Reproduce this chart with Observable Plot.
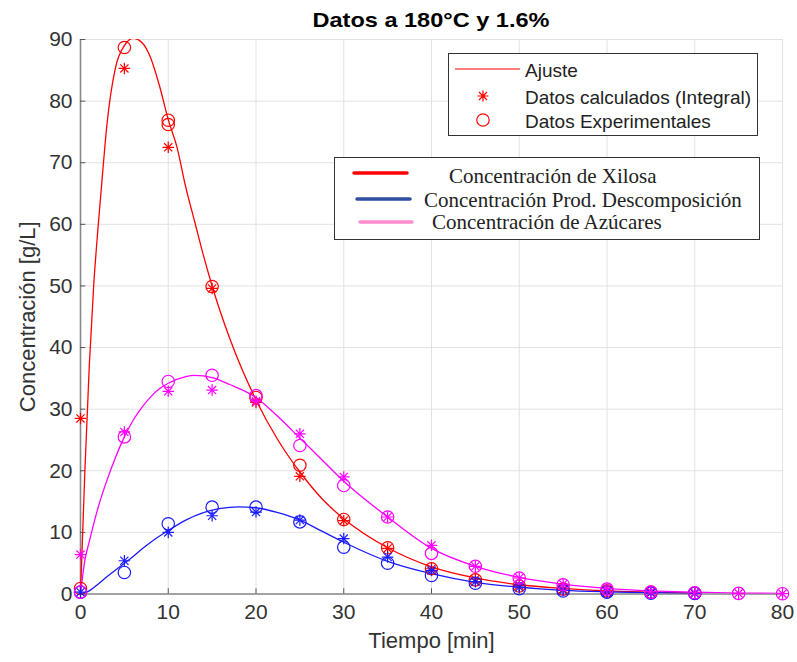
<!DOCTYPE html>
<html>
<head>
<meta charset="utf-8">
<script src="https://cdn.jsdelivr.net/npm/d3@7"></script>
<script src="https://cdn.jsdelivr.net/npm/@observablehq/plot@0.6"></script>
<style>
  body { margin: 0; background: #fff; }
  #wrap { position: relative; width: 797px; height: 662px; font-family: "Liberation Sans", Arial, sans-serif; }
  #title { position: absolute; left: 0; top: 9px; width: 862px; text-align: center; font-weight: bold; font-size: 21px; line-height: 1; color: #000; transform: scaleX(1.12); transform-origin: 431px 50%; }
  .legend { position: absolute; background: #fff; border: 1px solid #333; box-sizing: border-box; }
</style>
</head>
<body>
<div id="wrap">
  <div id="chart"></div>
  <div id="title">Datos a 180°C y 1.6%</div>
  <div class="legend" id="leg1" style="left:448px; top:53px; width:310px; height:83px;"></div>
  <div class="legend" id="leg2" style="left:334px; top:157px; width:426px; height:83px;"></div>
</div>
<script>
// ---- data ----
const xTicks = [0, 10, 20, 30, 40, 50, 60, 70, 80];
const yTicks = [0, 10, 20, 30, 40, 50, 60, 70, 80, 90];

// Xilosa (red)
const xilExpT = [0, 5, 10, 10, 15, 20, 25, 30, 35, 40, 45, 50, 55, 60, 65, 70];
const xilExp  = [0.9, 88.7, 76.9, 76.2, 49.9, 31.9, 20.9, 12.1, 7.5, 4.1, 2.3, 1.3, 0.8, 0.5, 0.3, 0.15];
const xilCalT = [0, 5, 10, 15, 20, 25, 30, 35, 40, 45, 50, 55, 60, 65, 70];
const xilCal  = [28.5, 85.3, 72.5, 49.6, 31.1, 19.1, 11.9, 7.4, 4.1, 2.4, 1.4, 0.8, 0.5, 0.3, 0.15];
const xilFitT = [0, 0.5, 1, 1.5, 2, 2.5, 3, 4, 5, 6, 7, 8, 9, 10, 11, 12, 13, 14, 15, 17, 20, 22.5, 25, 27.5, 30, 35, 40, 45, 50, 55, 60, 65, 70];
const xilFit  = [0, 20, 37, 50, 59.5, 68, 76, 85.5, 89, 90.2, 89.5, 87, 82.5, 77, 72.5, 66, 60.5, 55, 50, 41.5, 31.5, 25, 19.8, 15.5, 12.2, 7.5, 4.4, 2.6, 1.5, 0.9, 0.5, 0.3, 0.15];

// Azúcares (magenta)
const azuExpT = [0, 5, 10, 15, 20, 25, 30, 35, 40, 45, 50, 55, 60, 65, 70, 75, 80];
const azuExp  = [0.3, 25.5, 34.5, 35.5, 32.2, 24.1, 17.6, 12.5, 6.6, 4.5, 2.6, 1.5, 0.8, 0.3, 0.2, 0.1, 0.05];
const azuCalT = [0, 5, 10, 15, 20, 25, 30, 35, 40, 45, 50, 55, 60, 65, 70, 75, 80];
const azuCal  = [6.4, 26.3, 32.9, 33.1, 31.3, 26.0, 19.0, 12.5, 7.9, 4.5, 2.6, 1.6, 0.9, 0.4, 0.2, 0.1, 0.05];
const azuFitT = [0, 0.5, 1, 2, 3, 4, 5, 6, 7, 8, 9, 10, 12, 13, 14, 15, 17, 20, 22.5, 25, 27.5, 30, 35, 40, 45, 50, 55, 60, 65, 70, 75, 80];
const azuFit  = [0, 5.5, 8.5, 14, 18.4, 22.2, 25.5, 28.2, 30.3, 32, 33.3, 34.2, 35.3, 35.5, 35.4, 35.1, 34, 31.9, 28.8, 25.3, 21.8, 18.3, 12.5, 7.4, 4.5, 2.7, 1.6, 0.9, 0.5, 0.3, 0.15, 0.1];

// Prod. Descomposición (blue)
const desExpT = [0, 5, 10, 15, 20, 25, 30, 35, 40, 45, 50, 55, 60, 65, 70];
const desExp  = [0.3, 3.5, 11.4, 14.1, 14.1, 11.7, 7.6, 5.0, 3.0, 1.75, 0.85, 0.5, 0.3, 0.15, 0.1];
const desCalT = [0, 5, 10, 15, 20, 25, 30, 35, 40, 45, 50, 55, 60, 65, 70];
const desCal  = [0.3, 5.4, 10.0, 12.7, 13.3, 12.0, 9.0, 6.0, 3.8, 2.0, 1.1, 0.6, 0.3, 0.15, 0.1];
const desFitT = [0, 1, 2, 3, 4, 5, 6, 7, 8, 10, 12, 14, 16, 18, 20, 22.5, 25, 27.5, 30, 35, 40, 45, 50, 55, 60, 65, 70];
const desFit  = [0, 0.5, 1.6, 2.8, 3.9, 5.0, 6.1, 7.3, 8.4, 10.3, 12.0, 13.2, 13.9, 14.15, 14.0, 13.2, 12.0, 10.2, 8.4, 5.3, 3.3, 1.9, 1.1, 0.6, 0.35, 0.2, 0.1];

const xLabel = "Tiempo [min]";
const yLabel = "Concentración [g/L]";
const legend1Labels = ["Ajuste", "Datos calculados (Integral)", "Datos Experimentales"];
const legend2Labels = ["Concentración de Xilosa", "Concentración Prod. Descomposición", "Concentración de Azúcares"];

// ---- build ----
const zip = (t, v) => t.map((x, i) => ({t: x, v: v[i]}));
const series = [
  {fit: zip(xilFitT, xilFit), exp: zip(xilExpT, xilExp), cal: zip(xilCalT, xilCal), color: "#ff0000"},
  {fit: zip(desFitT, desFit), exp: zip(desExpT, desExp), cal: zip(desCalT, desCal), color: "#1a1aff"},
  {fit: zip(azuFitT, azuFit), exp: zip(azuExpT, azuExp), cal: zip(azuCalT, azuCal), color: "#ff00ff"}
];

const marks = [
  Plot.gridX(xTicks, {stroke: "#e2e2e2", strokeOpacity: 1, strokeWidth: 1}),
  Plot.gridY(yTicks, {stroke: "#e2e2e2", strokeOpacity: 1, strokeWidth: 1}),
  Plot.ruleX([0], {stroke: "#888", strokeWidth: 1.6}),
  Plot.ruleY([0], {stroke: "#888", strokeWidth: 1.6}),
  Plot.ruleX(xTicks, {y1: 0, y2: 0.85, stroke: "#555", strokeWidth: 1}),
  Plot.ruleY(yTicks, {x1: 0, x2: 0.6, stroke: "#555", strokeWidth: 1}),
  Plot.axisX(xTicks, {tickSize: 0, tickPadding: 10, fontSize: 21, fill: "#333", label: null, tickFormat: d => String(d)}),
  Plot.axisY(yTicks, {tickSize: 0, tickPadding: 8, fontSize: 21, fill: "#333", label: null, tickFormat: d => String(d)}),
  Plot.text([xLabel], {frameAnchor: "bottom", textAnchor: "middle", dy: 47, fontSize: 22, fill: "#333", lineAnchor: "middle"}),
  Plot.text([yLabel], {frameAnchor: "left", textAnchor: "middle", dx: -53, rotate: -90, fontSize: 22, fill: "#333", lineAnchor: "middle"})
];
for (const s of series) {
  marks.push(Plot.line(s.fit, {x: "t", y: "v", stroke: s.color, strokeWidth: 1.3, curve: "monotone-x", clip: true}));
}
for (const s of series) {
  marks.push(Plot.dot(s.cal, {x: "t", y: "v", symbol: "plus", r: 3.8, stroke: s.color, strokeWidth: 1.2}));
  marks.push(Plot.dot(s.cal, {x: "t", y: "v", symbol: "times", r: 3.8, stroke: s.color, strokeWidth: 1.2}));
  marks.push(Plot.dot(s.exp, {x: "t", y: "v", symbol: "circle", r: 6.2, stroke: s.color, strokeWidth: 1.2, fill: "none"}));
}

const chart = Plot.plot({
  width: 797,
  height: 662,
  marginTop: 39,
  marginLeft: 80,
  marginRight: 15,
  marginBottom: 68.5,
  x: {domain: [0, 80], ticks: xTicks},
  y: {domain: [0, 90], ticks: yTicks},
  style: {fontFamily: "'Liberation Sans', Arial, sans-serif", background: "transparent"},
  marks
});
document.getElementById("chart").appendChild(chart);

// ---- legends ----
const NS = "http://www.w3.org/2000/svg";
function el(tag, attrs, parent) {
  const e = document.createElementNS(NS, tag);
  for (const k in attrs) e.setAttribute(k, attrs[k]);
  parent.appendChild(e);
  return e;
}
{
  const svg = el("svg", {width: 308, height: 81}, document.getElementById("leg1"));
  el("line", {x1: 6, x2: 71, y1: 15, y2: 15, stroke: "#ff0000", "stroke-width": 1.2}, svg);
  const cx = 34, cy = 42;
  el("path", {d: `M${cx-5.5},${cy}h11M${cx},${cy-5.5}v11M${cx-4},${cy-4}l8,8M${cx-4},${cy+4}l8,-8`, stroke: "#ff0000", "stroke-width": 1.2, fill: "none"}, svg);
  el("circle", {cx: 34, cy: 66, r: 6.2, stroke: "#ff0000", "stroke-width": 1.2, fill: "none"}, svg);
  const ys = [16, 43, 67];
  legend1Labels.forEach((t, i) => {
    const tx = el("text", {x: 76, y: ys[i], "dominant-baseline": "central", "font-size": 19, fill: "#222", "font-family": "'Liberation Sans', Arial, sans-serif"}, svg);
    tx.textContent = t;
  });
}
{
  const svg = el("svg", {width: 424, height: 81}, document.getElementById("leg2"));
  const lines = [
    {x1: 19, x2: 72, y: 15, c: "#ff0000"},
    {x1: 22, x2: 75, y: 41, c: "#2e50a0"},
    {x1: 25, x2: 77, y: 64, c: "#ff8ccc"}
  ];
  lines.forEach(l => el("line", {x1: l.x1, x2: l.x2, y1: l.y, y2: l.y, stroke: l.c, "stroke-width": 3.5, "stroke-linecap": "round"}, svg));
  const xs = [114, 89, 97], ys = [18, 42, 64];
  legend2Labels.forEach((t, i) => {
    const tx = el("text", {x: xs[i], y: ys[i], "dominant-baseline": "central", "font-size": 21, fill: "#222", "font-family": "'Liberation Serif', 'Times New Roman', serif"}, svg);
    tx.textContent = t;
  });
}
</script>
</body>
</html>
